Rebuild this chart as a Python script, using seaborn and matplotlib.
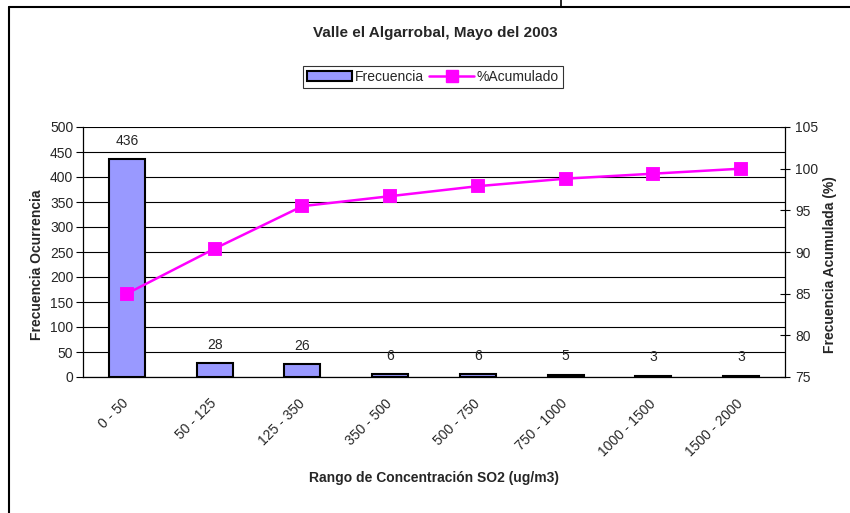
import pandas as pd
import seaborn as sns
import matplotlib.pyplot as plt
import matplotlib.transforms as mtrans
from matplotlib.lines import Line2D
from matplotlib.patches import Patch

rangos = ['0 - 50', '50 - 125', '125 - 350', '350 - 500', '500 - 750',
          '750 - 1000', '1000 - 1500', '1500 - 2000']
frecuencia = [436, 28, 26, 6, 6, 5, 3, 3]
acumulado = [85.0, 90.4, 95.5, 96.7, 97.9, 98.8, 99.4, 100.0]

df = pd.DataFrame({'Rango': rangos, 'Frecuencia': frecuencia, 'Acumulado': acumulado})

sns.set_theme(style='white')
plt.rcParams['font.family'] = ['Liberation Sans', 'DejaVu Sans']

barColor = '#9999FF'
lineColor = '#FF00FF'

fig = plt.figure(figsize=(8.5, 5.13), dpi=100)
ax = fig.add_axes([83/850, 1-377/513, 702/850, 250/513])

sns.barplot(data=df, x='Rango', y='Frecuencia', color=barColor, saturation=1,
            edgecolor='black', linewidth=1.5, width=0.41, ax=ax)
ax.bar_label(ax.containers[0], padding=8, fontsize=10)

ax.set_ylim(0, 500)
ax.set_yticks(range(0, 501, 50))
ax.set_xlim(-0.5, 7.5)
ax.yaxis.grid(True, color='black', linewidth=0.8)
ax.set_axisbelow(True)
ax.set_xlabel('')
ax.set_ylabel('')
ax.set_xticks(range(len(rangos)))
ax.set_xticklabels(rangos, rotation=45, ha='right', rotation_mode='anchor')
ax.set_xticks([i - 0.5 for i in range(len(rangos) + 1)], minor=True)
ax.tick_params(axis='x', which='major', length=0, pad=14, labelsize=10)
ax.tick_params(axis='x', which='minor', length=5, width=0.8, color='black', direction='out')
ax.tick_params(axis='y', length=5, width=0.8, color='black', direction='out', labelsize=10, pad=2, left=True)
shift = mtrans.ScaledTranslation(-5/100, 0, fig.dpi_scale_trans)
for lbl in ax.get_xticklabels():
    lbl.set_transform(lbl.get_transform() + shift)
for s in ['top', 'right']:
    ax.spines[s].set_visible(False)
for s in ['left', 'bottom']:
    ax.spines[s].set_color('black')
    ax.spines[s].set_linewidth(0.9)

ax2 = ax.twinx()
sns.pointplot(data=df, x='Rango', y='Acumulado', color=lineColor, markers='s',
              markersize=8, linewidth=1.8, ax=ax2)
ax2.set_xlim(-0.5, 7.5)
ax2.set_ylim(75, 105)
ax2.set_yticks(range(75, 106, 5))
ax2.set_ylabel('')
ax2.set_xlabel('')
ax2.tick_params(axis='y', length=7, width=0.8, color='black', direction='inout', labelsize=10, pad=4, right=True)
for s in ['top', 'left', 'bottom']:
    ax2.spines[s].set_visible(False)
ax2.spines['right'].set_color('black')
ax2.spines['right'].set_linewidth(0.9)

fig.text(435/850, 1-33/513, 'Valle el Algarrobal, Mayo del 2003', ha='center', va='center',
         fontsize=11, fontweight='bold')
fig.text(37/850, 1-265/513, 'Frecuencia Ocurrencia', rotation=90, ha='center', va='center',
         fontsize=10, fontweight='bold')
fig.text(830/850, 1-265/513, 'Frecuencia Acumulada (%)', rotation=90, ha='center', va='center',
         fontsize=10, fontweight='bold')
fig.text(434/850, 1-478/513, 'Rango de Concentración SO2 (ug/m3)', ha='center', va='center',
         fontsize=10, fontweight='bold')

handles = [Patch(facecolor=barColor, edgecolor='black', linewidth=1.5),
           Line2D([], [], color=lineColor, marker='s', markersize=8, linewidth=1.8)]
leg = fig.legend(handles, ['Frecuencia', '%Acumulado'], loc='center', ncol=2,
                 bbox_to_anchor=(433/850, 1-77/513), frameon=True, fancybox=False,
                 fontsize=10, handlelength=3.2, handletextpad=0.2, columnspacing=0.4,
                 borderpad=0.3)
leg.get_frame().set_edgecolor('black')
leg.get_frame().set_linewidth(0.8)

# marco exterior
fig.add_artist(Line2D([9/850, 9/850], [0, 1-7/513], color='black', linewidth=1.5))
fig.add_artist(Line2D([9/850, 1], [1-7/513, 1-7/513], color='black', linewidth=1.5))
fig.add_artist(Line2D([561/850, 561/850], [1-7/513, 1], color='black', linewidth=1.2))

fig.savefig('out.png', dpi=100)
